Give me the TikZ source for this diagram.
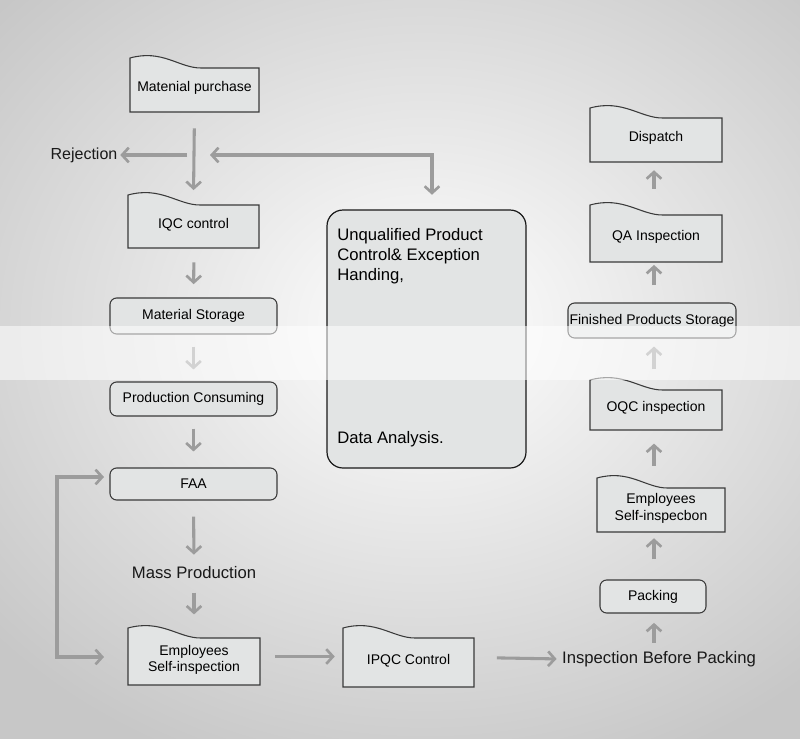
\documentclass[tikz,border=0pt]{standalone}
\usepackage{fontspec}
\setmainfont{Liberation Sans}
\usetikzlibrary{arrows.meta}
\definecolor{agray}{HTML}{9C9C9C}
\definecolor{bfill}{HTML}{E2E4E4}
\definecolor{bdraw}{HTML}{3A3A3A}
\tikzset{
  ar/.style={draw=agray,line width=2.3pt,-{Straight Barb[length=5pt,width=11pt,line width=2pt]}},
  ar2/.style={draw=agray,line width=2.3pt,{Straight Barb[length=5pt,width=11pt,line width=2pt]}-{Straight Barb[length=5pt,width=11pt,line width=2pt]}},
  rbox/.style={draw=bdraw,fill=bfill,line width=0.8pt,rounded corners=5pt,inner sep=0pt,font=\fontsize{10.5}{12}\selectfont},
  lbl/.style={inner sep=0pt,text=black!90,font=\fontsize{12.5}{15}\selectfont},
}
% wavy-top box: x1,y1,x2,y2,name,text
\newcommand\wbox[6]{%
  \path[draw=bdraw,fill=bfill,line width=0.8pt] (#1,#4) -- (#1,#2)
    .. controls ({#1+0.25*(#3-#1)},{#2-9}) and ({#1+0.38*(#3-#1)},{#2+10}) .. ({#1+0.55*(#3-#1)},{#2+10})
    -- (#3,{#2+10}) -- (#3,#4) -- cycle;
  \node[inner sep=0pt,minimum width={(#3-#1)*0.75pt},minimum height={(#4-#2)*0.75pt},font=\fontsize{10.5}{12.5}\selectfont,align=center]
    (#5) at ({(#1+#3)/2},{(#2+#4)/2}) {};
  \node[inner sep=0pt,font=\fontsize{10.5}{12.5}\selectfont,align=center] (#5t) at ([yshift=-2.5pt]#5.center) {#6};}
\newcommand\rrbox[6]{%
  \node[rbox,minimum width={(#3-#1)*0.75pt},minimum height={(#4-#2)*0.75pt}]
    (#5) at ({(#1+#3)/2},{(#2+#4)/2}) {#6};}
\begin{document}
\begin{tikzpicture}[x=0.75pt,y=-0.75pt]
\useasboundingbox (0,0) rectangle (800,739);
\shade[inner color=white,outer color=black!22] (-150,-150) rectangle (1000,800);
% boxes
\wbox{130}{58}{259}{112}{mp}{Matenial purchase}
\wbox{128}{195}{259}{248}{iqc}{IQC control}
\rrbox{110}{298}{277}{334}{ms}{Material Storage}
\rrbox{110}{382}{277}{416}{pc}{Production Consuming}
\rrbox{110}{468}{277}{500}{faa}{FAA}
\wbox{128}{628}{260}{685}{es}{Employees\\Self-inspection}
\wbox{343}{628}{474}{687}{ipqc}{IPQC Control}
\rrbox{600}{580}{706}{613}{pk}{Packing}
\wbox{597}{478}{725}{532}{esi}{Employees\\Self-inspecbon}
\wbox{590}{380}{722}{430}{oqc}{OQC inspection}
\rrbox{568}{303}{736}{338}{fps}{Finished Products Storage}
\wbox{590}{205}{722}{262}{qa}{QA Inspection}
\wbox{590}{108}{722}{162}{dp}{Dispatch}
\node[draw=black!90,fill=bfill,line width=0.9pt,rounded corners=12pt,minimum width={199*0.75pt},minimum height={258*0.75pt}] (big) at (426.5,339) {};
\node[anchor=north west,align=left,inner sep=0pt,font=\fontsize{12.5}{15}\selectfont] (bigt) at (337,228) {Unqualified Product\\Control\& Exception\\Handing,};
\node[anchor=west,inner sep=0pt,font=\fontsize{12.5}{15}\selectfont] (bigd) at (337,439) {Data Analysis.};
% labels
\node[lbl,font=\fontsize{12}{14}\selectfont] (rej) at (84,155) {Rejection};
\node[lbl] (mass) at (194,573) {Mass Production};
\node[lbl] (ibp) at (659,659) {Inspection Before Packing};
% coordinates
\coordinate (j1) at (187,155);
\coordinate (c1) at (210,155);
\coordinate (b1) at (432,155);
\coordinate (l1) at (57,477);
\coordinate (l2) at (57,657);
\coordinate (f1) at (104,477);
\coordinate (e1) at (104,657);
% arrows
\draw[ar,shorten <=12pt,shorten >=3.5pt] (mp.south) -- (iqc.north);
\draw[ar,shorten >=2pt] (j1) -- (rej.east);
\draw[ar2,shorten >=11pt] (c1) -- (b1) -- (big.north -| b1);
\draw[ar,shorten <=10.5pt,shorten >=10pt] (iqc.south -| 194,0) -- (ms.north);
\draw[ar,shorten <=9pt,shorten >=9pt] (ms.south) -- (pc.north);
\draw[ar,shorten <=9pt,shorten >=12pt] (pc.south) -- (faa.north);
\draw[ar,shorten <=12pt,shorten >=9pt] (faa.south) -- (mass.north);
\draw[ar,shorten <=10pt,shorten >=10pt] (mass.south) -- (es.north -| mass.south);
\draw[ar,shorten <=11pt,shorten >=6pt] (es.east) -- (ipqc.west |- es.east);
\draw[ar,shorten <=17pt,shorten >=4pt] (ipqc.east) -- (ibp.west);
\draw[ar,shorten <=6pt,shorten >=7pt] (ibp.north -| 654,0) -- (pk.south -| 654,0);
\draw[ar,shorten <=15pt,shorten >=4.5pt] (pk.north -| 654,0) -- (esi.south -| 654,0);
\draw[ar,shorten <=9pt,shorten >=10pt] (esi.north -| 654,0) -- (oqc.south -| 654,0);
\draw[ar,shorten <=8pt,shorten >=6pt] (oqc.north -| 654,0) -- (fps.south -| 654,0);
\draw[ar,shorten <=13pt,shorten >=2pt] (fps.north -| 654,0) -- (qa.south -| 654,0);
\draw[ar,shorten <=12pt,shorten >=6pt] (qa.north -| 654,0) -- (dp.south -| 654,0);
\draw[ar2] (f1) -- (l1) -- (l2) -- (e1);
% watermark band
\fill[white,opacity=0.55] (0,326) rectangle (800,380);
\end{tikzpicture}
\end{document}
